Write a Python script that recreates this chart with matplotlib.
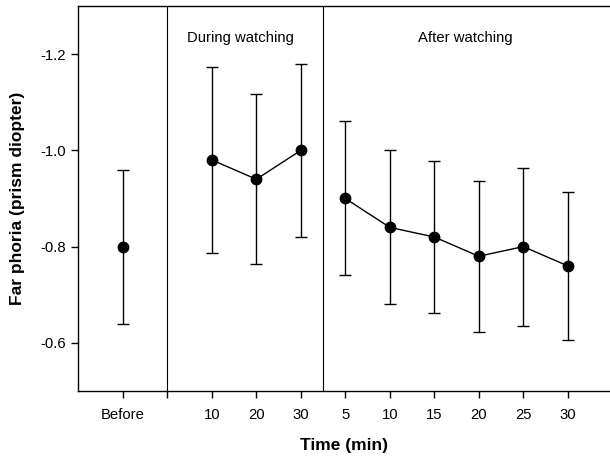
import matplotlib
matplotlib.use("Agg")
import matplotlib.pyplot as plt

plt.rcParams['font.family'] = ['Liberation Sans', 'DejaVu Sans']

# data
tick_labels = ['Before', '', '10', '20', '30', '5', '10', '15', '20', '25', '30']
before_mean = [-0.80]
before_err = [0.16]
during_mean = [-0.98, -0.94, -1.00]
during_err = [0.193, 0.177, 0.18]
after_mean = [-0.90, -0.84, -0.82, -0.78, -0.80, -0.76]
after_err = [0.16, 0.16, 0.157, 0.157, 0.164, 0.153]

before_x = [0]
during_x = [2, 3, 4]
after_x = [5, 6, 7, 8, 9, 10]

fig = plt.figure(figsize=(6.10, 4.57), dpi=100)
ax = fig.add_axes([78/610, 1 - 391/457, 1 - 78/610, (391 - 6)/457])

style = dict(fmt='o-', color='black', ms=7.5, lw=1, elinewidth=1, capsize=4.3, capthick=1)
ax.errorbar(before_x, before_mean, yerr=before_err, **style)
ax.errorbar(during_x, during_mean, yerr=during_err, **style)
ax.errorbar(after_x, after_mean, yerr=after_err, **style)

ax.axvline(1, color='black', lw=0.8)
ax.axvline(4.5, color='black', lw=0.8)

ax.text(2.65, -1.233, 'During watching', ha='center', va='center', fontsize=10.7)
ax.text(7.7, -1.233, 'After watching', ha='center', va='center', fontsize=10.7)

ax.set_xlim(-1.01, 10.95)
ax.set_ylim(-0.5, -1.3)
ax.set_xticks(range(len(tick_labels)))
ax.set_xticklabels(tick_labels)
ax.set_yticks([-0.6, -0.8, -1.0, -1.2])
ax.set_yticklabels(['-0.6', '-0.8', '-1.0', '-1.2'])
ax.tick_params(direction='out', length=5, width=1, labelsize=10.7)
ax.tick_params(axis='x', pad=7)
ax.spines['right'].set_visible(False)
for s in ['left', 'bottom', 'top']:
    ax.spines[s].set_linewidth(1)

ax.set_xlabel('Time (min)', fontsize=12.5, fontweight='bold', labelpad=12)
ax.set_ylabel('Far phoria (prism diopter)', fontsize=12.5, fontweight='bold', labelpad=11)

fig.savefig('out.png', dpi=100)
